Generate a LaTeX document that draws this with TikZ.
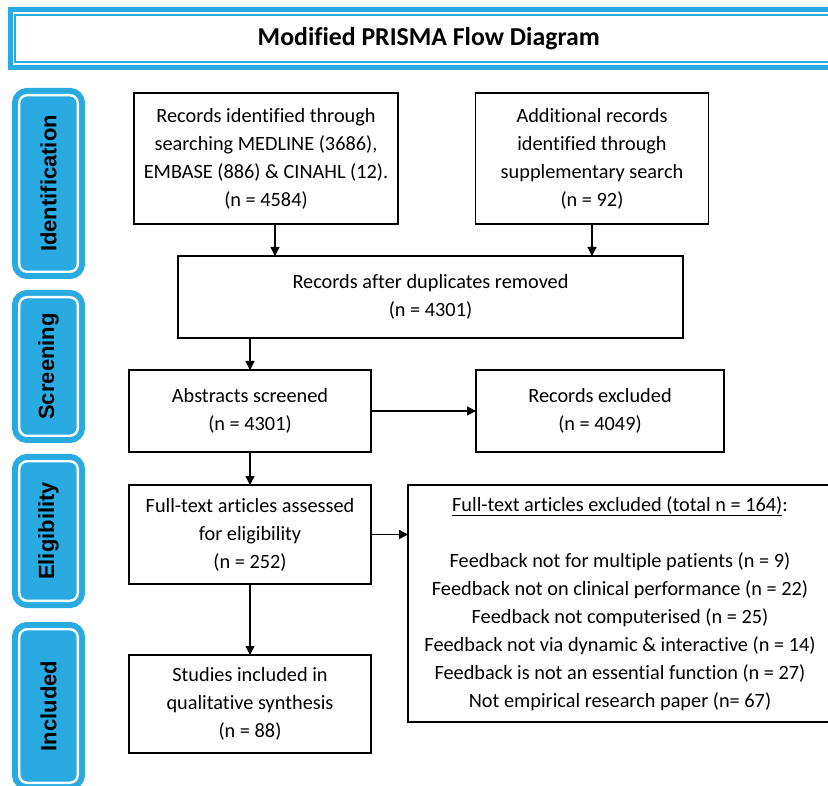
\documentclass[tikz,border=0pt]{standalone}
\usepackage{fontspec}
\setmainfont{Carlito}[Ligatures=NoCommon]
\newfontfamily\stagefont{Liberation Sans}
\usetikzlibrary{arrows.meta}
\definecolor{prismablue}{RGB}{41,171,226}

\begin{document}
\begin{tikzpicture}[x=1pt, y=-1pt,
  box/.style={draw=black, line width=1.3pt, inner sep=0pt, outer sep=0pt, align=center,
    font=\fontsize{20.3}{28}\selectfont},
  titlebox/.style={draw=prismablue, line width=5pt, inner sep=0pt, outer sep=0pt,
    font=\bfseries\fontsize{25.8}{30}\selectfont},
  stage/.style={fill=prismablue, draw=prismablue, double=white, double distance=2.4pt,
    line width=6pt, rounded corners=8pt, inner sep=0pt, outer sep=0pt, rotate=90,
    minimum height=58.6, font=\stagefont\bfseries\fontsize{22}{26}\selectfont},
  flow/.style={line width=1.3pt, -{Triangle[length=9pt,width=9pt]}}]

% FRAME
  \fill[white] (0,0) rectangle (828,786);
  \useasboundingbox (0,0) rectangle (828,786);
  \clip (0,0) rectangle (828,786);

% TITLE
  \node[titlebox, minimum width=837.5, minimum height=57.5] (title) at (428.75,38.75) {Modified PRISMA Flow Diagram};
  \draw[prismablue, line width=1.8pt] ([shift={(4.7,4.7)}]title.north west) rectangle ([shift={(-4.7,-5.5)}]title.south east);

% STAGES
  \node[stage, minimum width=176.6] (sident) at (48.5,183.5) {Identification};
  \node[stage, minimum width=138.6] (sscreen) at (48.5,366.5) {Screening};
  \node[stage, minimum width=139.6] (selig) at (48.5,531) {Eligibility};
  \node[stage, minimum width=153.6] (sincl) at (48.5,706) {Included};

% Identification
  \node[box, minimum width=264, minimum height=131] (ident) at (266,158.5)
    {Records identified through\\searching MEDLINE (3686),\\EMBASE (886) \& CINAHL (12).\\(n = 4584)};
  \node[box, minimum width=233, minimum height=131] (supp) at (592,158.5)
    {Additional records\\identified through\\supplementary search\\(n = 92)};

% Screening
  \node[box, minimum width=505, minimum height=82] (dedup) at (430.5,297)
    {Records after duplicates removed\\(n = 4301)};
  \node[box, minimum width=242, minimum height=82] (abstr) at (250,411)
    {Abstracts screened\\(n = 4301)};
  \node[box, minimum width=248, minimum height=82] (abex) at (600,411)
    {Records excluded\\(n = 4049)};

% Eligibility
  \node[box, minimum width=242, minimum height=99] (full) at (250,534.5)
    {Full-text articles assessed\\for eligibility\\(n = 252)};
  \node[box, minimum width=424, minimum height=237] (fullex) at (620,603.5)
    {\underline{Full-text articles excluded (total n = 164)}:\\[28pt]
     Feedback not for multiple patients (n = 9)\\
     Feedback not on clinical performance (n = 22)\\
     Feedback not computerised (n = 25)\\
     Feedback not via dynamic \& interactive (n = 14)\\
     Feedback is not an essential function (n = 27)\\
     Not empirical research paper (n= 67)};

% Included
  \node[box, minimum width=242, minimum height=98] (incl) at (250,704)
    {Studies included in\\qualitative synthesis\\(n = 88)};

% ARROWS
  \draw[flow] ([xshift=9pt]ident.south) -- ([xshift=9pt]ident.south |- dedup.north);
  \draw[flow] (supp.south) -- (supp.south |- dedup.north);
  \draw[flow] (abstr.north |- dedup.south) -- (abstr.north);
  \draw[flow] (abstr.east) -- (abex.west);
  \draw[flow] (abstr.south) -- (full.north);
  \draw[flow] (full.east) -- (full.east -| fullex.west);
  \draw[flow] (full.south) -- (incl.north);
\end{tikzpicture}
\end{document}
